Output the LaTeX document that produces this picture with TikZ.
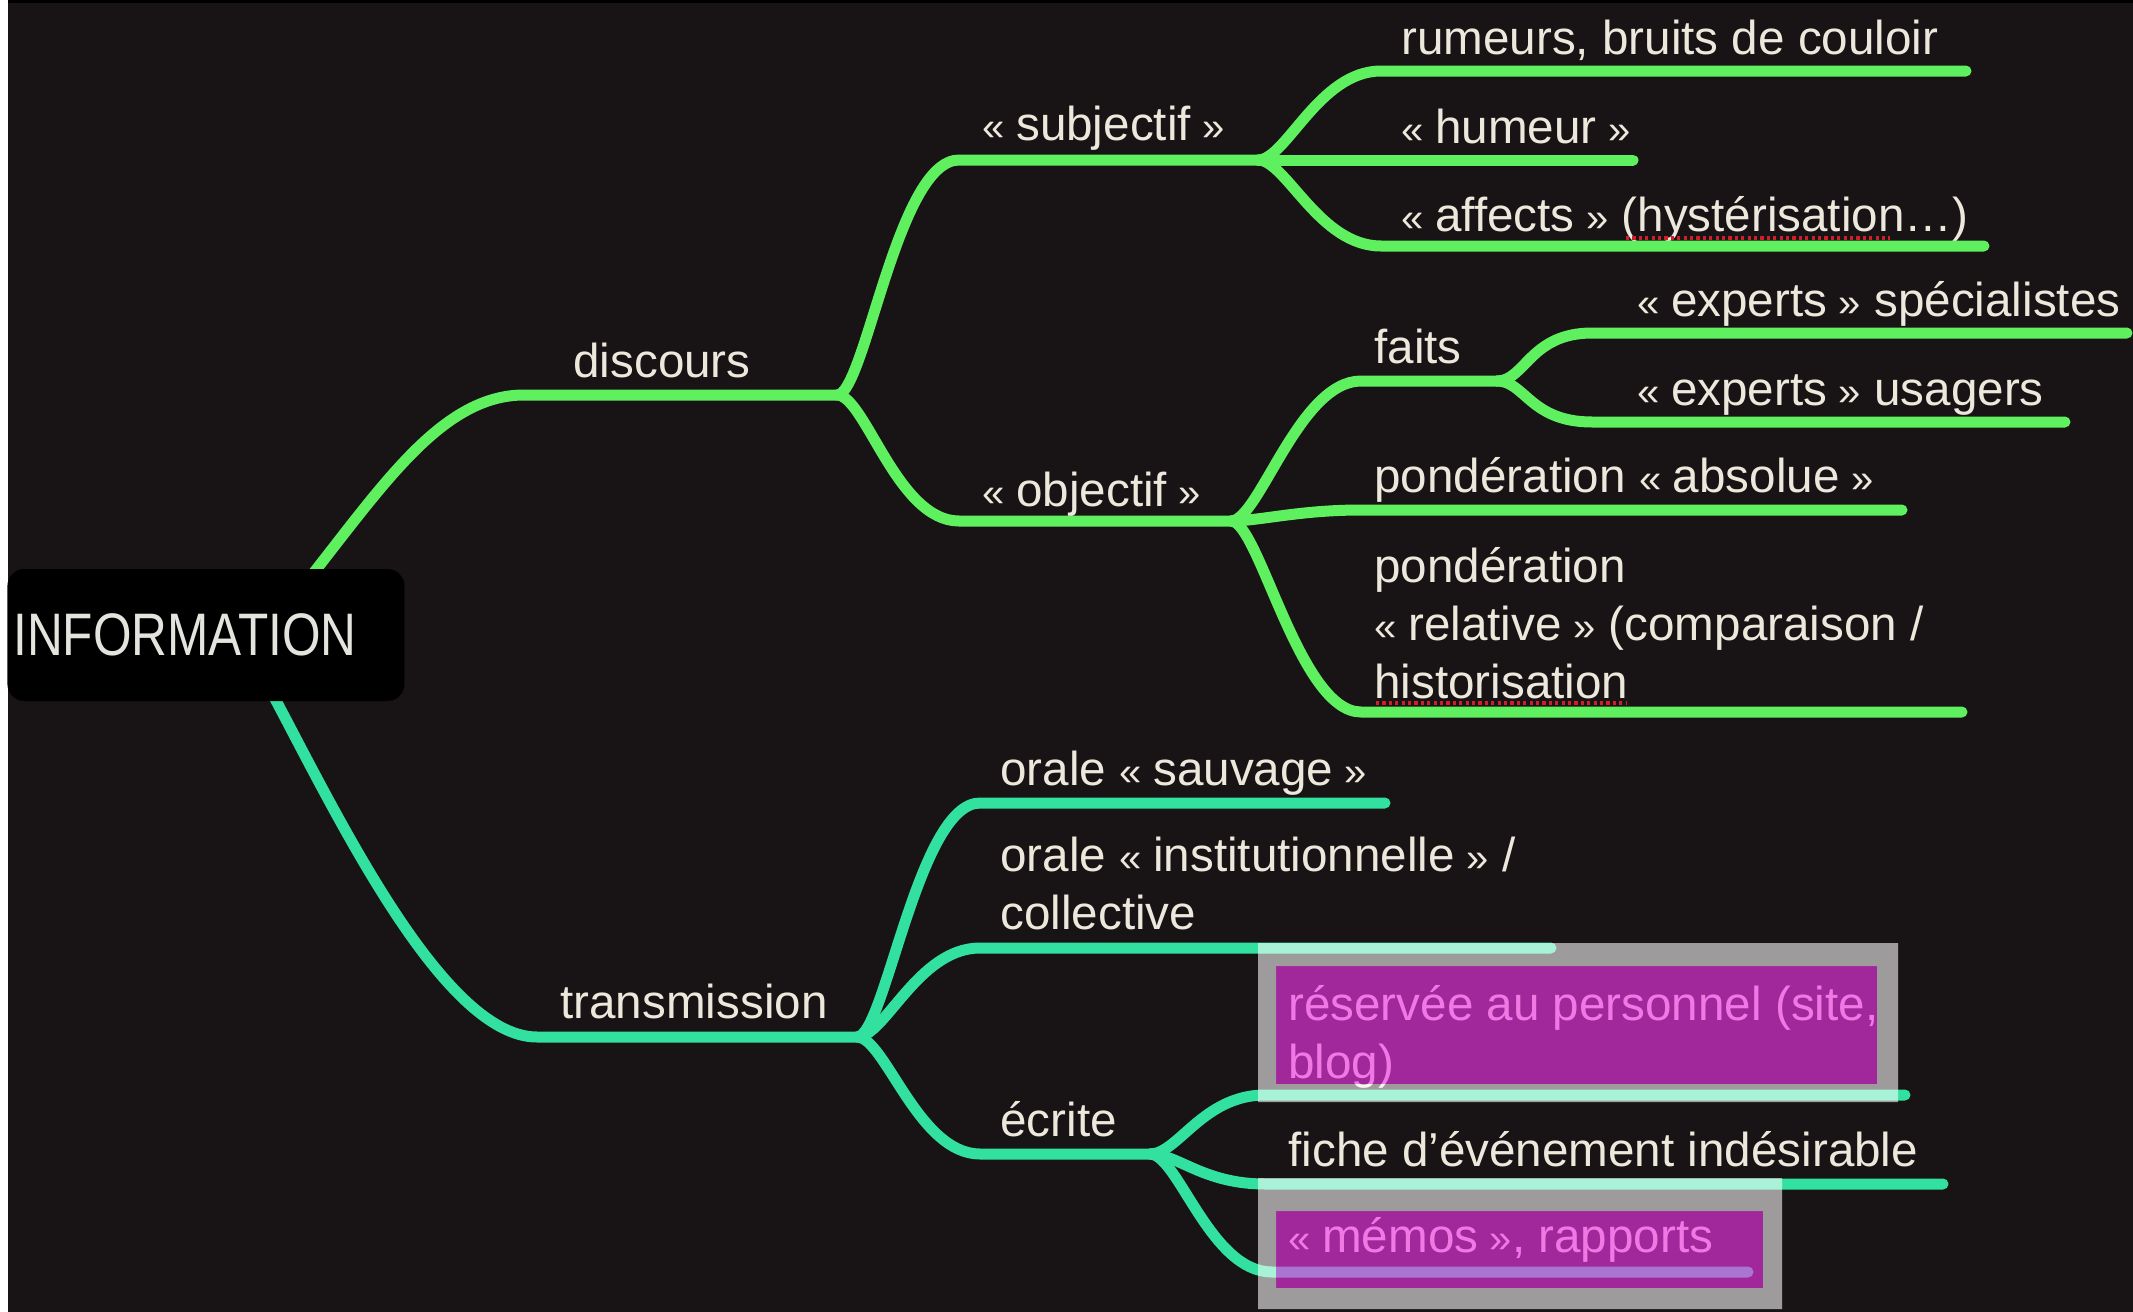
\documentclass[tikz,border=0pt]{standalone}
\usepackage{fontspec}
\setmainfont{Liberation Sans}
\usepackage{graphicx}
\usetikzlibrary{calc}
\definecolor{bg}{RGB}{24,19,20}
\definecolor{lgreen}{RGB}{95,240,95}
\definecolor{lteal}{RGB}{50,225,160}
\definecolor{txt}{RGB}{236,232,220}
\definecolor{hlpurple}{RGB}{243,53,236}
\definecolor{spell}{RGB}{210,30,40}
\newcommand\lguil{{\fontsize{20}{29}\selectfont«}\hspace{5.8pt}}
\newcommand\rguil{\hspace{5.8pt}{\fontsize{20}{29}\selectfont»}}
\tikzset{
  gline/.style={draw=lgreen, line width=5.5pt, line cap=round},
  tline/.style={draw=lteal, line width=5.5pt, line cap=round},
  lbl/.style={text=txt, font=\fontsize{23.8}{29}\selectfont, inner sep=0pt, anchor=base west, align=left},
  spellmark/.style={draw=spell, line width=1.6pt, dash pattern=on 1.6pt off 1.6pt},
  branch/.style={to path={.. controls ($(\tikztostart)+(28,0)$) and ($(\tikztotarget)+(-62,0)$) .. (\tikztotarget) \tikztonodes}},
  rootbox/.style={fill=black, rounded corners=8.5pt, minimum height=66pt, text width=192.5pt, inner xsep=3pt, align=left, text={rgb,255:red,228;green,228;blue,222}},
  grayring/.style={fill=white, fill opacity=0.58, even odd rule},
  purplefill/.style={fill=hlpurple, fill opacity=0.625},
}
\begin{document}
\begin{tikzpicture}[x=0.5pt, y=-0.5pt]
\useasboundingbox (0,0) rectangle (2133,1312);
% background
\fill[white] (0,0) rectangle (8,1312);
\fill[bg] (8,0) rectangle (2133,1312);
\fill[black] (8,0) rectangle (2133,3);

% coordinates
\coordinate (groot) at (300,590);
\coordinate (troot) at (265,680);
\coordinate (disc-s) at (524,395);  \coordinate (disc-e) at (837,395);
\coordinate (subj-s) at (959,160);  \coordinate (subj-e) at (1258,160);
\coordinate (obj-s) at (959,521);   \coordinate (obj-e) at (1231,521);
\coordinate (rum-s) at (1381,71);   \coordinate (rum-e) at (1966,71);
\coordinate (hum-e) at (1633,160);
\coordinate (aff-s) at (1381,246);  \coordinate (aff-e) at (1984,246);
\coordinate (faits-s) at (1361,381); \coordinate (faits-e) at (1497,381);
\coordinate (pabs-s) at (1361,510); \coordinate (pabs-e) at (1902,510);
\coordinate (prel-s) at (1361,712); \coordinate (prel-e) at (1962,712);
\coordinate (spec-s) at (1592,333); \coordinate (spec-e) at (2127,333);
\coordinate (usag-s) at (1592,422); \coordinate (usag-e) at (2065,422);
\coordinate (trans-s) at (537,1037); \coordinate (trans-e) at (857,1037);
\coordinate (osau-s) at (980,803);  \coordinate (osau-e) at (1385,803);
\coordinate (oins-s) at (980,948);  \coordinate (oins-e) at (1551,948);
\coordinate (ecr-s) at (980,1154);  \coordinate (ecr-e) at (1150,1154);
\coordinate (res-s) at (1265,1095); \coordinate (res-e) at (1905,1095);
\coordinate (fic-s) at (1265,1184); \coordinate (fic-e) at (1943,1184);
\coordinate (mem-s) at (1272,1272); \coordinate (mem-e) at (1748,1272);

% green branches
\draw[gline] (groot) .. controls (380,490) and (440,395) .. (disc-s) -- (disc-e);
\draw[gline] (disc-e) to[branch] (subj-s) -- (subj-e);
\draw[gline] (disc-e) to[branch] (obj-s) -- (obj-e);
\draw[gline] (subj-e) to[branch] (rum-s) -- (rum-e);
\draw[gline] (subj-e) -- (hum-e);
\draw[gline] (subj-e) to[branch] (aff-s) -- (aff-e);
\draw[gline] (obj-e) to[branch] (faits-s) -- (faits-e);
\draw[gline] (obj-e) to[branch] (pabs-s) -- (pabs-e);
\draw[gline] (obj-e) to[branch] (prel-s) -- (prel-e);
\draw[gline] (faits-e) to[branch] (spec-s) -- (spec-e);
\draw[gline] (faits-e) to[branch] (usag-s) -- (usag-e);

% teal branches
\draw[tline] (troot) .. controls (330,800) and (440,1037) .. (trans-s) -- (trans-e);
\draw[tline] (trans-e) to[branch] (osau-s) -- (osau-e);
\draw[tline] (trans-e) to[branch] (oins-s) -- (oins-e);
\draw[tline] (trans-e) to[branch] (ecr-s) -- (ecr-e);
\draw[tline] (ecr-e) to[branch] (res-s) -- (res-e);
\draw[tline] (ecr-e) to[branch] (fic-s) -- (fic-e);
\draw[tline] (ecr-e) to[branch] (mem-s) -- (mem-e);

% root box
\node[rootbox, anchor=west] (info) at (7,635) {\fontsize{30}{36}\selectfont\scalebox{0.826}[1]{INFORMATION}};

% labels (multi-line labels are placed by the baseline of their last line)
\node[lbl] (discours) at (573,377) {discours};
\node[lbl] (subj) at (982,140) {\lguil subjectif\rguil};
\node[lbl] (rum) at (1401,54) {rumeurs, bruits de couloir};
\node[lbl] (hum) at (1401,143) {\lguil humeur\rguil};
\node[lbl] (aff) at (1401,231) {\lguil affects\rguil{} (hystérisation…)};
\node[lbl] (obj) at (982,506) {\lguil objectif\rguil};
\node[lbl] (faits) at (1374,363) {faits};
\node[lbl] (spec) at (1637,316) {\lguil experts\rguil{} spécialistes};
\node[lbl] (usag) at (1637,405) {\lguil experts\rguil{} usagers};
\node[lbl] (pabs) at (1374,492) {pondération \lguil absolue\rguil};
\node[lbl] (prel) at (1374,698) {pondération\\\lguil relative\rguil{} (comparaison /\\historisation};
\node[lbl] (trans) at (560,1018) {transmission};
\node[lbl] (osau) at (1000,785) {orale \lguil sauvage\rguil};
\node[lbl] (oins) at (1000,929) {orale \lguil institutionnelle\rguil{} /\\collective};
\node[lbl] (ecr) at (1000,1136) {écrite};
\node[lbl] (res) at (1288,1078) {réservée au personnel (site,\\blog)};
\node[lbl] (fic) at (1288,1166) {fiche d’événement indésirable};
\node[lbl] (mem) at (1288,1252) {\lguil mémos\rguil, rapports};

% spell-check marks
\coordinate (sp1a) at (1626,238); \coordinate (sp1b) at (1890,238);
\coordinate (sp2a) at (1376,703); \coordinate (sp2b) at (1627,703);
\draw[spellmark] (sp1a) -- (sp1b);
\draw[spellmark] (sp2a) -- (sp2b);

% highlight overlays
\fill[grayring] (1258,943) rectangle (1898,1102) (1276,966) rectangle (1877,1084);
\fill[purplefill] (1276,966) rectangle (1877,1084);
\fill[grayring] (1258,1178) rectangle (1782,1309) (1276,1211) rectangle (1763,1288);
\fill[purplefill] (1276,1211) rectangle (1763,1288);
\end{tikzpicture}
\end{document}
